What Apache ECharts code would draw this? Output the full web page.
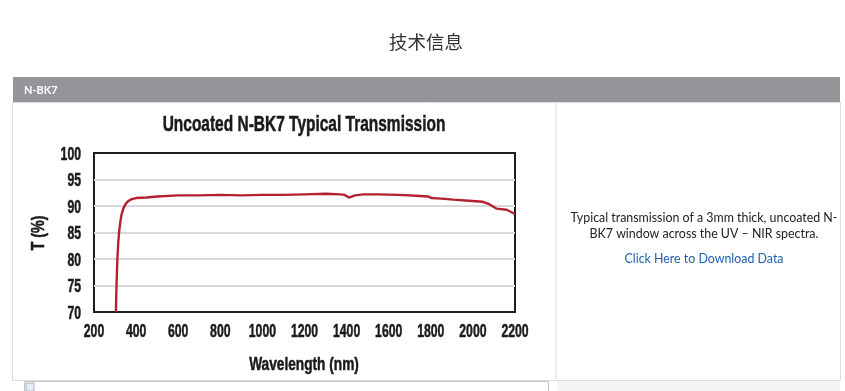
<!DOCTYPE html>
<html>
<head>
<meta charset="utf-8">
<style>
  html, body { margin: 0; padding: 0; background: #fff; }
  #chart { width: 845px; height: 391px; }
</style>
</head>
<body>
<div id="chart"></div>
<script src="https://cdn.jsdelivr.net/npm/echarts@6/dist/echarts.min.js"></script>
<script>
const wavelengths = [304, 307, 311, 315, 319, 325, 331, 340, 352, 365, 379, 400, 450, 500, 600, 700, 800, 900, 1000, 1100, 1200, 1300, 1370, 1390, 1411, 1440, 1480, 1550, 1650, 1750, 1787, 1804, 1850, 1907, 1980, 2048, 2080, 2113, 2160, 2200]
const transmission = [70, 75, 80, 83, 85, 87, 88.4, 89.6, 90.5, 91, 91.3, 91.5, 91.6, 91.8, 92, 92, 92.1, 92, 92.1, 92.1, 92.2, 92.3, 92.2, 92.1, 91.6, 92, 92.2, 92.2, 92.1, 91.9, 91.8, 91.5, 91.4, 91.2, 91, 90.8, 90.3, 89.5, 89.3, 88.5]
const xTickLabels = [200, 400, 600, 800, 1000, 1200, 1400, 1600, 1800, 2000, 2200]
const yTickLabels = [70, 75, 80, 85, 90, 95, 100]

const heavy = '"Liberation Sans", sans-serif'
const body = 'Lato, "Open Sans", sans-serif'
const ink = '#1a1a1a'

const chart = echarts.init(document.getElementById('chart'), null, { renderer: 'canvas' })

function rect(x, y, width, height, fill, stroke) {
  return {
    type: 'rect',
    silent: true,
    z: -1,
    shape: { x: x, y: y, width: width, height: height },
    style: { fill: fill || 'transparent', stroke: stroke || null, lineWidth: stroke ? 1 : 0 }
  }
}

function label(text, x, y, font, fill, extra, el) {
  return Object.assign({
    type: 'text',
    silent: true,
    x: x,
    y: y,
    z: 5,
    style: Object.assign({
      text: String(text),
      fill: fill,
      font: font,
      align: 'center',
      verticalAlign: 'middle'
    }, extra)
  }, el)
}

// no condensed face is installed, so the chart's lettering is squeezed with scaleX
function narrowLabel(text, x, y, size, squeeze, extra, el) {
  const weight = Object.assign({ stroke: ink, lineWidth: 0.5 }, extra)
  return label(text, x, y, 'bold ' + size + 'px ' + heavy, ink, weight, Object.assign({ scaleX: squeeze }, el))
}

const chrome = [
  label('技术信息', 426, 42, '18.5px "Noto Sans CJK SC"', '#333333'),
  rect(13, 77, 827, 25, '#939598'),
  label('N-BK7', 24, 90, 'bold 11px ' + body, '#ffffff', { align: 'left' }),
  rect(12.5, 102.5, 828, 278, null, '#dddddd'),
  rect(555.5, 102.5, 1, 278, '#dddddd'),
  rect(557, 381, 283, 10, '#f5f5f5'),
  rect(24.5, 381.5, 524, 12, '#ffffff', '#c4c4c4'),
  rect(26, 383, 8, 8, '#e6edf5', '#a8b4c4'),
  label('Typical transmission of a 3mm thick, uncoated N-', 704, 218, '12.4px ' + body, '#222222'),
  label('BK7 window across the UV – NIR spectra.', 704, 234, '12.4px ' + body, '#222222'),
  label('Click Here to Download Data', 704, 259, '12.4px ' + body, '#1f5fae'),
  narrowLabel('Uncoated N-BK7 Typical Transmission', 304, 125, 21.5, 0.72),
  narrowLabel('Wavelength (nm)', 304, 365, 18, 0.76),
  narrowLabel('T (%)', 39, 233, 18, 0.8, null, { rotation: Math.PI / 2 })
]

chart.setOption({
  animation: false,
  backgroundColor: '#fff',
  grid: {
    left: 94,
    right: 330,
    top: 153,
    bottom: 79,
    show: true,
    borderColor: '#1c1c1c',
    borderWidth: 2,
    backgroundColor: '#fff'
  },
  xAxis: {
    type: 'value',
    min: 200,
    max: 2200,
    interval: 200,
    axisLine: { show: false },
    axisTick: { show: false },
    splitLine: { show: false },
    axisLabel: { show: false }
  },
  yAxis: {
    type: 'value',
    min: 70,
    max: 100,
    interval: 5,
    axisLine: { show: false },
    axisTick: { show: false },
    splitLine: { show: true, showMinLine: false, showMaxLine: false, lineStyle: { color: '#d9d9d9', width: 2 } },
    axisLabel: { show: false }
  },
  series: [
    {
      type: 'line',
      data: wavelengths.map((w, i) => [w, transmission[i]]),
      showSymbol: false,
      symbol: 'none',
      clip: true,
      lineStyle: { color: '#b5202f', width: 2.4 }
    }
  ],
  graphic: chrome
})

// tick labels get their positions from the axes
const tickLabels = []
xTickLabels.forEach(v => {
  tickLabels.push(narrowLabel(v, chart.convertToPixel({ xAxisIndex: 0 }, v), 332, 18, 0.68))
})
yTickLabels.forEach(v => {
  tickLabels.push(narrowLabel(v, 81, chart.convertToPixel({ yAxisIndex: 0 }, v) + 2, 18, 0.68, { align: 'right' }))
})
chart.setOption({ graphic: chrome.concat(tickLabels) })
</script>
</body>
</html>
